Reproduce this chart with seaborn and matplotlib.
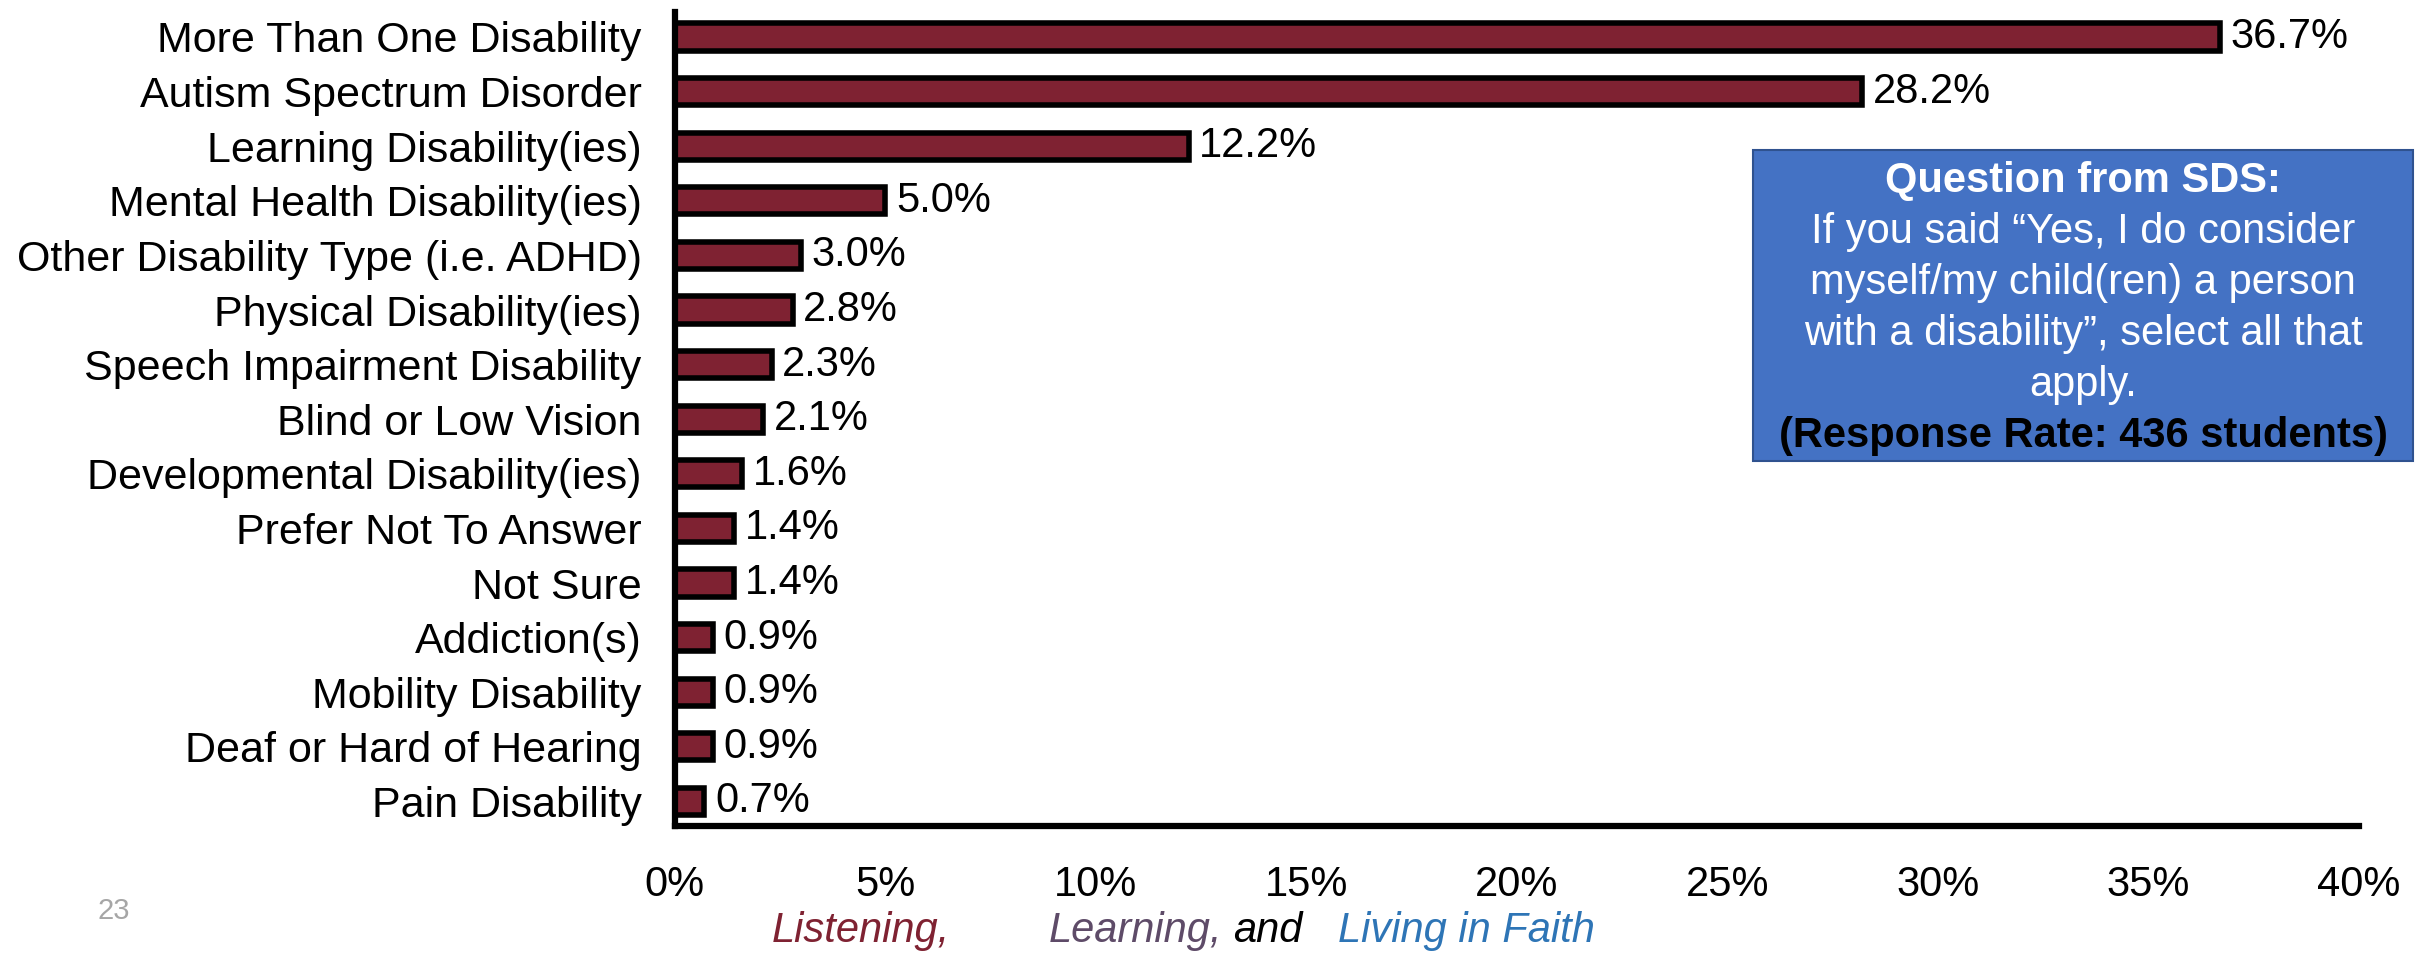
#!/usr/bin/env python3

import pandas as pd
from matplotlib import pyplot as plt
from matplotlib.patches import FancyBboxPatch
from matplotlib.ticker import FuncFormatter
import seaborn as sns


disability_types = [
    "More Than One Disability",
    "Autism Spectrum Disorder",
    "Learning Disability(ies)",
    "Mental Health Disability(ies)",
    "Other Disability Type (i.e. ADHD)",
    "Physical Disability(ies)",
    "Speech Impairment Disability",
    "Blind or Low Vision",
    "Developmental Disability(ies)",
    "Prefer Not To Answer",
    "Not Sure",
    "Addiction(s)",
    "Mobility Disability",
    "Deaf or Hard of Hearing",
    "Pain Disability",
]
percentages = [36.7, 28.2, 12.2, 5.0, 3.0, 2.8, 2.3, 2.1, 1.6, 1.4, 1.4, 0.9, 0.9, 0.9, 0.7]
x_ticks = [0, 5, 10, 15, 20, 25, 30, 35, 40]

bar_color = "#7F2232"
box_color = "#4472C4"

sns.set_theme(style="white", rc={"text.color": "black", "xtick.color": "black",
                                 "ytick.color": "black"})
plt.rcParams["font.family"] = ["Liberation Sans", "DejaVu Sans"]

df = pd.DataFrame({"type": disability_types, "pct": percentages})

fig = plt.figure(figsize=(24.33, 9.56), dpi=100)
ax = fig.add_axes([0.2774, 0.136, 0.6922, 0.851])

sns.barplot(
    data=df, y="type", x="pct", orient="h", color=bar_color,
    width=0.5, edgecolor="black", linewidth=4, saturation=1, ax=ax,
)

for bar, val in zip(ax.patches, percentages):
    ax.text(bar.get_width() + 0.25, bar.get_y() + bar.get_height() / 2,
            f"{val:.1f}%", va="center", ha="left", fontsize=30, color="black")

ax.set_xlim(0, 40)
ax.set_ylim(len(disability_types) - 0.55, -0.45)
ax.set_xticks(x_ticks)
ax.xaxis.set_major_formatter(FuncFormatter(lambda v, _: f"{v:.0f}%"))
ax.tick_params(axis="x", labelsize=30, length=0, pad=28)
ax.tick_params(axis="y", labelsize=31, length=0, pad=24)
ax.set_xlabel("")
ax.set_ylabel("")
sns.despine(ax=ax)
for side in ["left", "bottom"]:
    ax.spines[side].set_linewidth(4.5)
    ax.spines[side].set_color("black")

# question box
box = FancyBboxPatch((0.7206, 0.518), 0.2712, 0.325, boxstyle="square,pad=0",
                     transform=fig.transFigure, facecolor=box_color,
                     edgecolor="#2F528F", linewidth=1.5, zorder=5)
fig.patches.append(box)
cx = 0.7206 + 0.2712 / 2
box_lines = [
    ("Question from SDS:", "bold", "white"),
    ("If you said \u201cYes, I do consider", "normal", "white"),
    ("myself/my child(ren) a person", "normal", "white"),
    ("with a disability\u201d, select all that", "normal", "white"),
    ("apply.", "normal", "white"),
    ("(Response Rate: 436 students)", "bold", "black"),
]
top_y = 1 - 181 / 956
step = 51 / 956
for i, (line, weight, col) in enumerate(box_lines):
    fig.text(cx, top_y - i * step, line, ha="center", va="center",
             fontsize=30, fontweight=weight, color=col, zorder=6)

# footer
footer_y = 1 - 931 / 956
footer = [
    (0.317, "Listening,", "#7F2232"),
    (0.431, "Learning,", "#5E4B68"),
    (0.507, "and", "black"),
    (0.550, "Living in Faith", "#2E75B6"),
]
for fx, word, col in footer:
    fig.text(fx, footer_y, word, ha="left", va="center", fontsize=30,
             fontstyle="italic", color=col)

fig.text(0.04, 1 - 911 / 956, "23", ha="left", va="center", fontsize=21, color="#A6A6A6")

plt.savefig("out.png", dpi=100)
